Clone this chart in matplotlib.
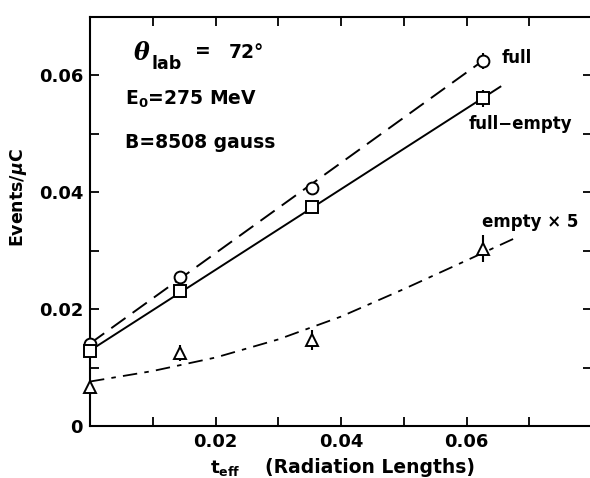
import matplotlib
matplotlib.use("Agg")
import matplotlib.pyplot as plt
from matplotlib.ticker import MultipleLocator, FuncFormatter

plt.rcParams['font.family'] = ['DejaVu Sans']
plt.rcParams['font.weight'] = 'bold'
plt.rcParams['mathtext.fontset'] = 'custom'
plt.rcParams['mathtext.rm'] = 'DejaVu Sans:bold'
plt.rcParams['mathtext.it'] = 'DejaVu Sans:italic:bold'
plt.rcParams['mathtext.bf'] = 'DejaVu Sans:bold'

# measured points (t_eff in radiation lengths, events per microcoulomb)
t_eff = [0.0, 0.0143, 0.0354, 0.0626]
full = [0.0141, 0.0255, 0.0406, 0.0624]
full_err = [0.0, 0.0, 0.0, 0.0014]
full_minus_empty = [0.0129, 0.0230, 0.0375, 0.0560]
fme_err = [0.0, 0.0, 0.0, 0.0014]
empty_x5 = [0.0066, 0.0125, 0.0147, 0.0303]
empty_err = [0.0013, 0.0014, 0.0017, 0.0023]

# drawn fit lines
full_fit_x = [0.0, 0.0645]
full_fit_y = [0.0141, 0.0639]
fme_fit_x = [0.0, 0.0654]
fme_fit_y = [0.0129, 0.0580]
empty_fit_x = [0.0, 0.01, 0.02, 0.03, 0.04, 0.05, 0.06, 0.0675]
empty_fit_y = [0.0076, 0.0094, 0.0117, 0.0148, 0.0187, 0.0234, 0.0283, 0.0320]

W, H = 590, 478
fig = plt.figure(figsize=(W / 100, H / 100), dpi=100)
ax = fig.add_axes([90 / W, 1 - 426 / H, 502 / W, 409.5 / H])


def px(x, y):
    return x / W, 1 - y / H


# fits
ax.plot(full_fit_x, full_fit_y, color='black', lw=1.4, linestyle=(0, (9, 4.5)), zorder=2)
ax.plot(fme_fit_x, fme_fit_y, color='black', lw=1.4, zorder=2)
ax.plot(empty_fit_x, empty_fit_y, color='black', lw=1.3, linestyle=(0, (8, 4, 2.5, 4)), zorder=2)

# error bars
ax.errorbar(t_eff, full, yerr=full_err, fmt='none', ecolor='black', elinewidth=1.5, capsize=0, zorder=3)
ax.errorbar(t_eff, full_minus_empty, yerr=fme_err, fmt='none', ecolor='black', elinewidth=1.5, capsize=0, zorder=3)
ax.errorbar(t_eff, empty_x5, yerr=empty_err, fmt='none', ecolor='black', elinewidth=1.5, capsize=0, zorder=3)

# markers
ax.plot(t_eff, full, 'o', ms=8.5, mfc='white', mec='black', mew=1.4, zorder=4, clip_on=False)
ax.plot(t_eff, full_minus_empty, 's', ms=8, mfc='white', mec='black', mew=1.4, zorder=4, clip_on=False)
ax.plot(t_eff, empty_x5, '^', ms=9, mfc='white', mec='black', mew=1.4, zorder=4, clip_on=False)

ax.set_xlim(0, 0.08)
ax.set_ylim(0, 0.07)

ax.xaxis.set_major_locator(MultipleLocator(0.02))
ax.xaxis.set_minor_locator(MultipleLocator(0.01))
ax.yaxis.set_major_locator(MultipleLocator(0.02))
ax.yaxis.set_minor_locator(MultipleLocator(0.01))


def xfmt(v, pos):
    if abs(v) < 1e-9 or v > 0.075:
        return ''
    return f'{v:.2f}'


def yfmt(v, pos):
    if abs(v) < 1e-9:
        return '0'
    return f'{v:.2f}'


ax.xaxis.set_major_formatter(FuncFormatter(xfmt))
ax.yaxis.set_major_formatter(FuncFormatter(yfmt))

ax.tick_params(which='both', direction='in', top=True, right=True,
               length=6.5, width=1.3, labelsize=13)
ax.tick_params(axis='x', pad=5)
ax.tick_params(axis='y', pad=5)
for lab in ax.get_xticklabels() + ax.get_yticklabels():
    lab.set_fontweight('bold')
for sp in ax.spines.values():
    sp.set_linewidth(1.5)

# annotations
fig.text(*px(142, 53), r'$\theta$', fontsize=17, ha='center', va='center',
         math_fontfamily='dejavuserif')
fig.text(*px(167, 64), 'lab', fontsize=12.5, ha='center', va='center', fontweight='bold')
fig.text(*px(203, 52), '=', fontsize=13.5, ha='center', va='center', fontweight='bold')
fig.text(*px(229, 52), '72°', fontsize=13.5, ha='left', va='center', fontweight='bold')
fig.text(*px(125, 105), r'E$_0$=275 MeV', fontsize=13.5, ha='left', va='baseline')
fig.text(*px(125, 148), 'B=8508 gauss', fontsize=13.5, ha='left', va='baseline', fontweight='bold')

fig.text(*px(502, 63), 'full', fontsize=12, ha='left', va='baseline', fontweight='bold')
fig.text(*px(469, 129), 'full\u2212empty', fontsize=12, ha='left', va='baseline', fontweight='bold')
fig.text(*px(482, 227), 'empty \u00d7 5', fontsize=12, ha='left', va='baseline', fontweight='bold')

fig.text(*px(19, 198), r'Events/$\mu$C', fontsize=12.5, rotation=90, ha='center', va='center',
         fontweight='bold')
fig.text(*px(210, 473), r't$_{\mathrm{eff}}$', fontsize=13, ha='left', va='baseline')
fig.text(*px(370, 473), '(Radiation Lengths)', fontsize=13.5, ha='center', va='baseline',
         fontweight='bold')

fig.savefig('out.png', dpi=100)
